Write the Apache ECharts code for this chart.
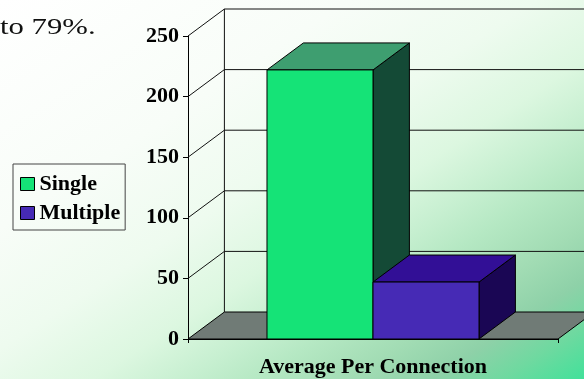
<!DOCTYPE html>
<html>
<head>
<meta charset="utf-8">
<script src="https://cdn.jsdelivr.net/npm/echarts@6/dist/echarts.min.js"></script>
<style>
  html, body { margin: 0; padding: 0; }
  #chart { width: 584px; height: 379px; }
</style>
</head>
<body>
<div id="chart"></div>
<script>
// ---- data ----
const categories = ['Average Per Connection'];
const seriesNames = ['Single', 'Multiple'];
const singleValues = [222];
const multipleValues = [47];
const yTicks = [0, 50, 100, 150, 200, 250];
const noteText = 'to 79%.';

// ---- look ----
const W = 584, H = 379;
const DEPTH_X = 36.4, DEPTH_Y = -27;   // 3D offset of the back plane
const BAR_FRACTION = 0.2865;           // width of one bar as part of the band
const SERIF = '"Liberation Serif", "Times New Roman", serif';

const faceColors = {
  Single:   { front: '#15e377', top: '#3e9e70', side: '#144a36' },
  Multiple: { front: '#462ab5', top: '#320f96', side: '#1a0654' }
};

const chart = echarts.init(document.getElementById('chart'), null, { renderer: 'canvas' });

// diagonal wash from white (top-left) to green (bottom-right)
const cx = W / 2, cy = H / 2;
const diag = Math.hypot(W, H);
const ux = H / diag, uy = W / diag;
const half = (cx * H + cy * W) / diag;
const bg = new echarts.graphic.LinearGradient(
  cx - half * ux, cy - half * uy, cx + half * ux, cy + half * uy,
  [
    { offset: 0.00, color: '#ffffff' },
    { offset: 0.30, color: '#f8fdf8' },
    { offset: 0.46, color: '#eefbef' },
    { offset: 0.58, color: '#dcf7e0' },
    { offset: 0.66, color: '#c6efd0' },
    { offset: 0.72, color: '#b5e8c3' },
    { offset: 0.80, color: '#a2dcb4' },
    { offset: 0.87, color: '#8ed1a8' },
    { offset: 0.93, color: '#6fd9a0' },
    { offset: 1.00, color: '#42e19a' }
  ],
  true
);

// back wall, left wall and floor, one item per tick value
function wallRenderer(params, api) {
  const v = api.value(1);
  const cs = params.coordSys;
  const y = api.coord([api.value(0), v])[1];
  const y0 = api.coord([api.value(0), 0])[1];
  const xl = cs.x, xr = cs.x + cs.width;
  const line = { stroke: '#111', lineWidth: 1 };
  const children = [];
  if (v === 0) {
    children.push({
      type: 'polygon',
      shape: { points: [[xl, y], [xr, y], [xr + DEPTH_X, y + DEPTH_Y], [xl + DEPTH_X, y + DEPTH_Y]] },
      style: { fill: '#707b76', stroke: '#000', lineWidth: 1 }
    });
  } else {
    children.push({ type: 'line', shape: { x1: xl, y1: y, x2: xl + DEPTH_X, y2: y + DEPTH_Y }, style: line });
    children.push({ type: 'line', shape: { x1: xl + DEPTH_X, y1: y + DEPTH_Y, x2: xr + DEPTH_X, y2: y + DEPTH_Y }, style: line });
  }
  if (v === yTicks[yTicks.length - 1]) {
    children.push({ type: 'line', shape: { x1: xl + DEPTH_X, y1: y + DEPTH_Y, x2: xl + DEPTH_X, y2: y0 + DEPTH_Y }, style: line });
  }
  return { type: 'group', children: children };
}

// 3D box for one bar: side, top, then front face
function barRenderer(seriesIdx, name) {
  return function (params, api) {
    const cat = api.value(0), v = api.value(1);
    const base = api.coord([cat, 0]);
    const top = api.coord([cat, v]);
    const band = api.size([1, 0])[0];
    const bw = band * BAR_FRACTION;
    const x0 = base[0] - bw + seriesIdx * bw;
    const x1 = x0 + bw;
    const yb = base[1], yt = top[1];
    const c = faceColors[name];
    const edge = { stroke: '#000', lineWidth: 1, lineJoin: 'round' };
    return {
      type: 'group',
      children: [
        { type: 'polygon', shape: { points: [[x1, yb], [x1 + DEPTH_X, yb + DEPTH_Y], [x1 + DEPTH_X, yt + DEPTH_Y], [x1, yt]] },
          style: Object.assign({ fill: c.side }, edge) },
        { type: 'polygon', shape: { points: [[x0, yt], [x1, yt], [x1 + DEPTH_X, yt + DEPTH_Y], [x0 + DEPTH_X, yt + DEPTH_Y]] },
          style: Object.assign({ fill: c.top }, edge) },
        { type: 'rect', shape: { x: x0, y: yt, width: bw, height: yb - yt },
          style: Object.assign({ fill: c.front }, edge) }
      ]
    };
  };
}

const seriesValues = [singleValues, multipleValues];

const option = {
  backgroundColor: bg,
  animation: false,
  grid: { left: 188, right: 26, top: 36, bottom: 40, containLabel: false },
  legend: {
    orient: 'vertical',
    left: 13,
    top: 164,
    padding: [9, 5, 6, 7],
    itemGap: 7,
    itemWidth: 14,
    itemHeight: 13,
    icon: 'rect',
    borderColor: '#444',
    borderWidth: 1,
    backgroundColor: 'rgba(0,0,0,0)',
    itemStyle: { borderColor: '#000', borderWidth: 1 },
    textStyle: { fontFamily: SERIF, fontWeight: 'bold', fontSize: 22, color: '#000', lineHeight: 22 },
    data: seriesNames.map(n => ({ name: n, itemStyle: { color: faceColors[n].front } }))
  },
  xAxis: {
    type: 'category',
    data: categories,
    boundaryGap: true,
    axisLine: { show: true, lineStyle: { color: '#000', width: 1 } },
    axisTick: { show: true, length: 4, lineStyle: { color: '#000' } },
    axisLabel: { margin: 17, fontFamily: SERIF, fontWeight: 'bold', fontSize: 22, color: '#000' },
    splitLine: { show: false }
  },
  yAxis: {
    type: 'value',
    min: 0,
    max: 250,
    interval: 50,
    axisLine: { show: true, lineStyle: { color: '#000', width: 1 } },
    axisTick: { show: true, length: 5, lineStyle: { color: '#000' } },
    axisLabel: { margin: 9, fontFamily: SERIF, fontWeight: 'bold', fontSize: 22, color: '#000' },
    splitLine: { show: false }
  },
  graphic: [{
    type: 'text',
    x: 0,
    y: 28,
    scaleX: 1.28,
    style: { x: 0, y: 0, text: noteText, font: '24px ' + SERIF, fill: '#111', verticalAlign: 'middle' }
  }],
  series: [
    {
      type: 'custom',
      name: 'walls',
      z: 1,
      silent: true,
      renderItem: wallRenderer,
      encode: { x: 0, y: 1 },
      data: yTicks.map(v => [categories[0], v])
    }
  ].concat(seriesNames.map((name, i) => ({
    type: 'custom',
    name: name,
    z: 3 + i,
    itemStyle: { color: faceColors[name].front },
    renderItem: barRenderer(i, name),
    encode: { x: 0, y: 1 },
    data: categories.map((c, k) => [c, seriesValues[i][k]])
  })))
};

chart.setOption(option);
</script>
</body>
</html>
